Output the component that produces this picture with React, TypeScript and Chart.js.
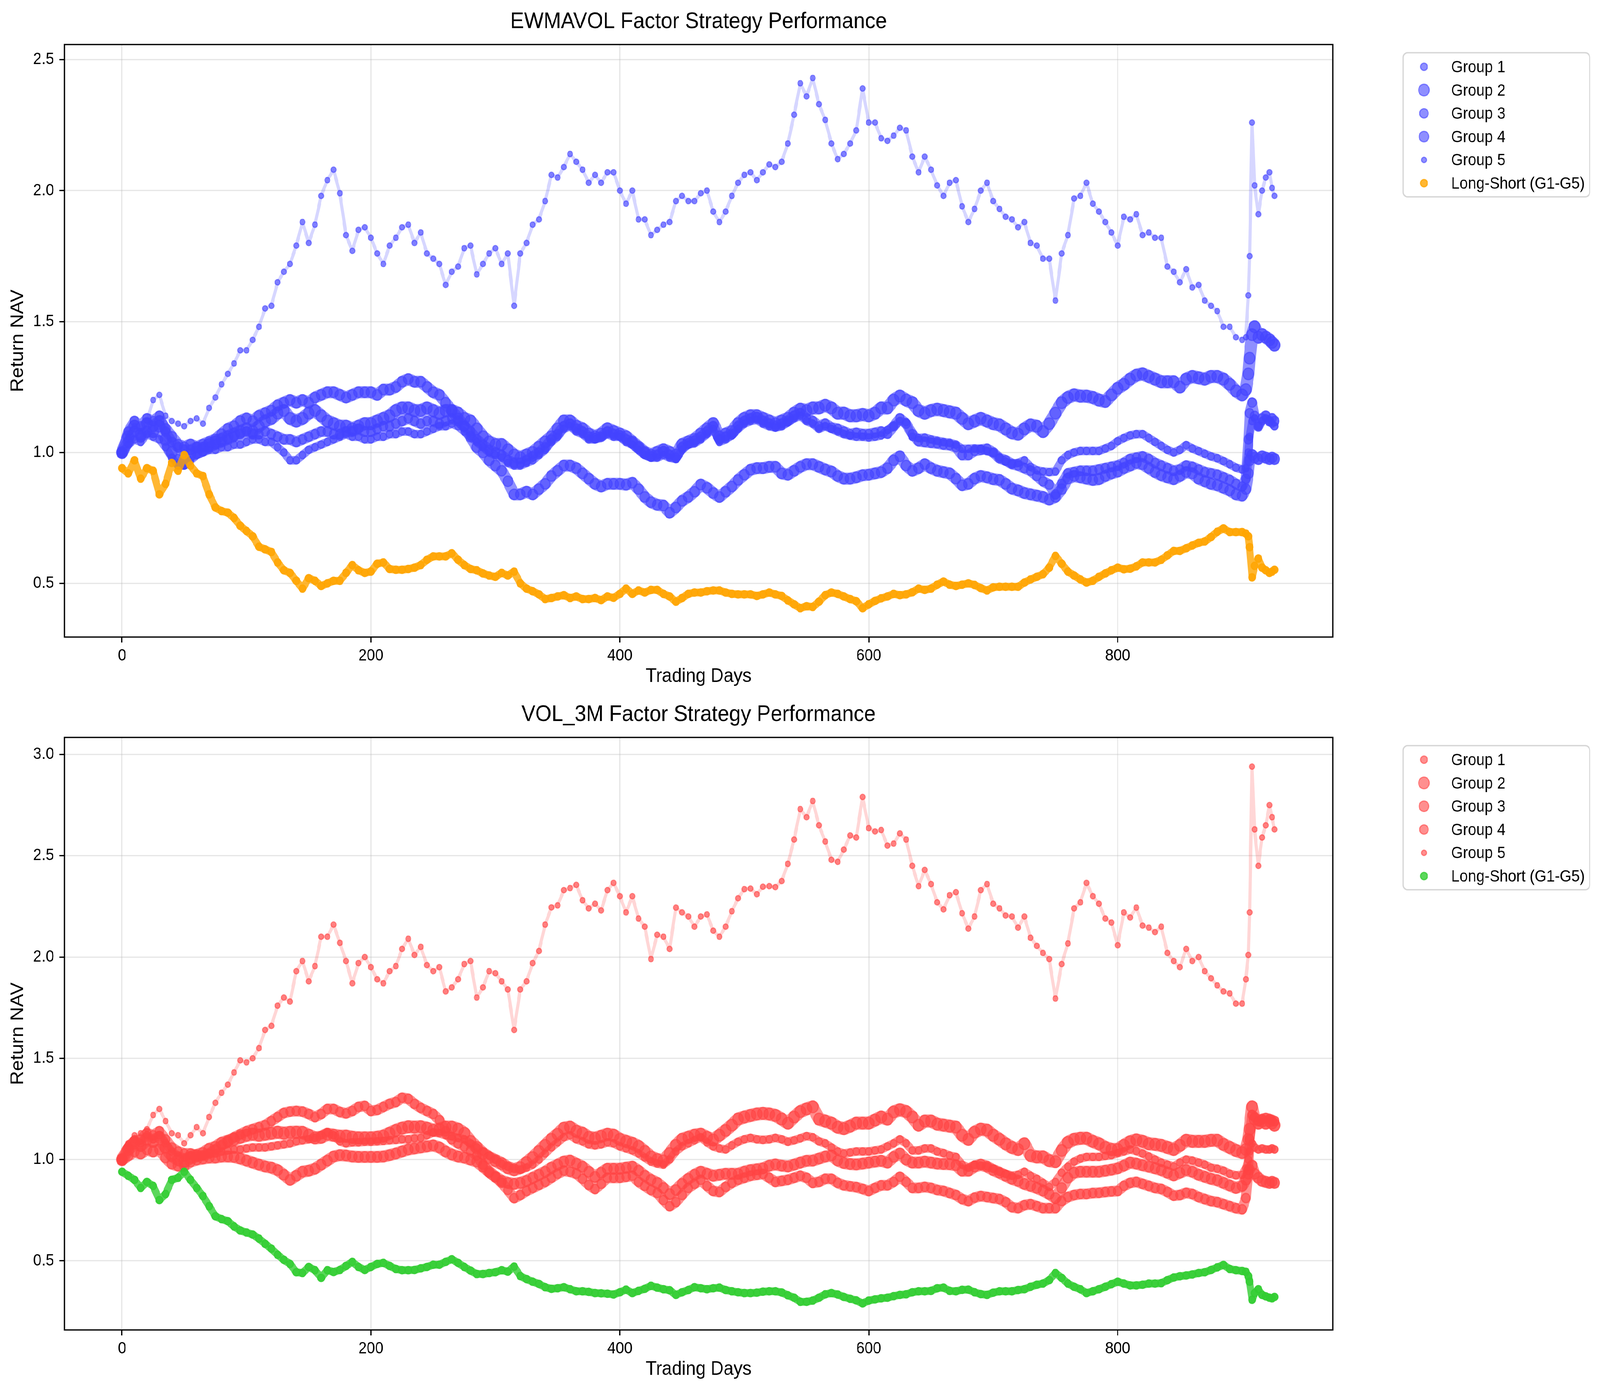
import React, { useEffect, useLayoutEffect, useRef, useState } from 'react';
import { Chart, registerables } from 'chart.js';

Chart.register(...registerables);

const FONT = '"Liberation Sans", Arial, Helvetica, sans-serif';
const FIG_W = 4472;
const FIG_H = 3569;

// trading days (5-day steps, denser around the jump near the end)
const days = [
  0, 5, 10, 15, 20, 25, 30, 35, 40, 45,
  50, 55, 60, 65, 70, 75, 80, 85, 90, 95,
  100, 105, 110, 115, 120, 125, 130, 135, 140, 145,
  150, 155, 160, 165, 170, 175, 180, 185, 190, 195,
  200, 205, 210, 215, 220, 225, 230, 235, 240, 245,
  250, 255, 260, 265, 270, 275, 280, 285, 290, 295,
  300, 305, 310, 315, 320, 325, 330, 335, 340, 345,
  350, 355, 360, 365, 370, 375, 380, 385, 390, 395,
  400, 405, 410, 415, 420, 425, 430, 435, 440, 445,
  450, 455, 460, 465, 470, 475, 480, 485, 490, 495,
  500, 505, 510, 515, 520, 525, 530, 535, 540, 545,
  550, 555, 560, 565, 570, 575, 580, 585, 590, 595,
  600, 605, 610, 615, 620, 625, 630, 635, 640, 645,
  650, 655, 660, 665, 670, 675, 680, 685, 690, 695,
  700, 705, 710, 715, 720, 725, 730, 735, 740, 745,
  750, 755, 760, 765, 770, 775, 780, 785, 790, 795,
  800, 805, 810, 815, 820, 825, 830, 835, 840, 845,
  850, 855, 860, 865, 870, 875, 880, 885, 890, 895,
  900, 903, 905, 906, 908, 910, 913, 916, 919, 922, 924, 926,
];

const xTicks = [0, 200, 400, 600, 800];
const ewmaYTicks = [0.5, 1.0, 1.5, 2.0, 2.5];
const volYTicks = [0.5, 1.0, 1.5, 2.0, 2.5, 3.0];

// ---- EWMAVOL ----
const ewmaG1 = [
  1.00, 1.03, 1.05, 1.04, 1.07, 1.06, 1.05, 1.02, 0.98, 0.95,
  0.95, 0.97, 0.99, 1.00, 1.01, 1.01, 1.02, 1.02, 1.03, 1.03,
  1.04, 1.05, 1.05, 1.04, 1.04, 1.02, 1.00, 0.97, 0.97, 0.99,
  1.01, 1.02, 1.03, 1.04, 1.05, 1.06, 1.07, 1.06, 1.06, 1.05,
  1.05, 1.06, 1.06, 1.07, 1.07, 1.08, 1.08, 1.07, 1.07, 1.08,
  1.09, 1.10, 1.10, 1.11, 1.10, 1.08, 1.06, 1.04, 1.02, 1.00,
  0.99, 0.98, 0.96, 0.95, 0.95, 0.96, 0.97, 0.99, 1.01, 1.04,
  1.06, 1.09, 1.10, 1.08, 1.07, 1.05, 1.05, 1.06, 1.07, 1.06,
  1.06, 1.04, 1.03, 1.01, 0.99, 0.98, 0.98, 0.99, 0.98, 0.975,
  1.01, 1.03, 1.035, 1.05, 1.07, 1.09, 1.04, 1.05, 1.065, 1.09,
  1.11, 1.12, 1.125, 1.11, 1.10, 1.095, 1.10, 1.115, 1.13, 1.14,
  1.12, 1.11, 1.09, 1.10, 1.09, 1.08, 1.07, 1.064, 1.06, 1.06,
  1.057, 1.06, 1.065, 1.086, 1.10, 1.12, 1.115, 1.06, 1.055, 1.057,
  1.05, 1.045, 1.04, 1.037, 1.03, 1.014, 1.014, 1.015, 1.014, 1.005,
  1.00, 0.98, 0.965, 0.956, 0.96, 0.97, 0.945, 0.932, 0.927, 0.925,
  0.927, 0.97, 0.99, 1.00, 1.006, 1.006, 1.006, 1.006, 1.015, 1.025,
  1.043, 1.055, 1.065, 1.07, 1.07, 1.055, 1.04, 1.025, 1.01, 1.00,
  1.01, 1.028, 1.015, 1.005, 0.995, 0.985, 0.978, 0.967, 0.955, 0.942,
  0.935, 0.94, 1.00, 1.06, 1.12, 1.13, 1.10, 1.12, 1.13, 1.12, 1.11, 1.10,
];
const ewmaG2 = [
  1.00, 1.06, 1.10, 1.07, 1.11, 1.08, 1.10, 1.05, 1.00, 0.97,
  0.96, 0.99, 1.00, 1.01, 1.03, 1.04, 1.05, 1.06, 1.07, 1.08,
  1.09, 1.08, 1.10, 1.12, 1.13, 1.15, 1.16, 1.13, 1.12, 1.13,
  1.15, 1.16, 1.14, 1.12, 1.11, 1.10, 1.10, 1.09, 1.10, 1.11,
  1.11, 1.12, 1.13, 1.14, 1.16, 1.17, 1.17, 1.16, 1.16, 1.17,
  1.16, 1.15, 1.16, 1.16, 1.15, 1.13, 1.12, 1.09, 1.06, 1.04,
  1.03, 1.03, 1.01, 0.99, 0.98, 0.99, 1.00, 1.02, 1.04, 1.06,
  1.09, 1.12, 1.12, 1.10, 1.09, 1.07, 1.06, 1.07, 1.09, 1.08,
  1.07, 1.06, 1.04, 1.02, 1.00, 0.99, 1.00, 1.01, 1.00, 0.99,
  1.03, 1.04, 1.05, 1.07, 1.09, 1.11, 1.06, 1.07, 1.08, 1.11,
  1.13, 1.14, 1.14, 1.13, 1.12, 1.11, 1.12, 1.13, 1.15, 1.165,
  1.16, 1.17, 1.17, 1.18, 1.17, 1.15, 1.15, 1.14, 1.14, 1.145,
  1.14, 1.15, 1.17, 1.17, 1.20, 1.215, 1.20, 1.19, 1.16, 1.15,
  1.16, 1.165, 1.16, 1.155, 1.15, 1.13, 1.11, 1.12, 1.13, 1.12,
  1.11, 1.105, 1.09, 1.075, 1.07, 1.09, 1.105, 1.10, 1.08, 1.11,
  1.15, 1.19, 1.21, 1.22, 1.215, 1.215, 1.21, 1.20, 1.195, 1.22,
  1.245, 1.26, 1.28, 1.295, 1.30, 1.29, 1.28, 1.27, 1.27, 1.27,
  1.25, 1.28, 1.29, 1.285, 1.28, 1.29, 1.29, 1.28, 1.26, 1.235,
  1.22, 1.24, 1.30, 1.36, 1.45, 1.48, 1.44, 1.45, 1.44, 1.43, 1.42, 1.41,
];
const ewmaG3 = [
  1.00, 1.08, 1.12, 1.10, 1.13, 1.12, 1.14, 1.08, 1.04, 1.02,
  1.01, 1.01, 1.02, 1.02, 1.02, 1.03, 1.04, 1.05, 1.06, 1.07,
  1.08, 1.07, 1.07, 1.08, 1.07, 1.06, 1.05, 1.05, 1.04, 1.05,
  1.06, 1.07, 1.08, 1.08, 1.07, 1.07, 1.08, 1.08, 1.09, 1.08,
  1.08, 1.09, 1.10, 1.10, 1.11, 1.12, 1.13, 1.12, 1.11, 1.12,
  1.12, 1.11, 1.12, 1.13, 1.12, 1.10, 1.08, 1.05, 1.03, 1.01,
  1.00, 0.99, 0.97, 0.96, 0.96, 0.97, 0.985, 1.00, 1.02, 1.05,
  1.07, 1.10, 1.11, 1.09, 1.08, 1.06, 1.055, 1.06, 1.08, 1.07,
  1.065, 1.05, 1.04, 1.02, 1.00, 0.985, 0.99, 1.005, 0.99, 0.98,
  1.02, 1.035, 1.045, 1.06, 1.08, 1.10, 1.05, 1.06, 1.07, 1.10,
  1.12, 1.13, 1.135, 1.12, 1.11, 1.10, 1.11, 1.12, 1.14, 1.15,
  1.13, 1.12, 1.10, 1.11, 1.095, 1.09, 1.08, 1.07, 1.075, 1.07,
  1.07, 1.075, 1.08, 1.072, 1.10, 1.13, 1.11, 1.07, 1.043, 1.04,
  1.037, 1.035, 1.03, 1.028, 1.02, 0.99, 0.99, 1.006, 1.01, 1.014,
  1.00, 0.978, 0.97, 0.956, 0.95, 0.94, 0.93, 0.91, 0.89, 0.877,
  0.84, 0.88, 0.92, 0.925, 0.93, 0.93, 0.93, 0.935, 0.94, 0.945,
  0.95, 0.96, 0.975, 0.98, 0.985, 0.975, 0.96, 0.95, 0.94, 0.93,
  0.935, 0.95, 0.945, 0.935, 0.925, 0.92, 0.915, 0.905, 0.895, 0.88,
  0.87, 0.90, 1.05, 1.15, 1.19, 1.14, 1.10, 1.13, 1.14, 1.12, 1.13, 1.12,
];
const ewmaG4 = [
  1.00, 1.04, 1.08, 1.06, 1.08, 1.10, 1.12, 1.09, 1.06, 1.03,
  1.02, 1.03, 1.02, 1.03, 1.04, 1.05, 1.07, 1.09, 1.10, 1.12,
  1.13, 1.12, 1.14, 1.15, 1.16, 1.18, 1.19, 1.20, 1.19, 1.20,
  1.19, 1.21, 1.22, 1.23, 1.23, 1.22, 1.21, 1.22, 1.23, 1.23,
  1.23, 1.22, 1.24, 1.24, 1.25, 1.27, 1.28, 1.27, 1.27, 1.25,
  1.23, 1.22, 1.19, 1.16, 1.13, 1.10, 1.06, 1.02, 1.00, 0.97,
  0.95, 0.93, 0.89, 0.84, 0.84, 0.85, 0.84, 0.86, 0.88, 0.91,
  0.93, 0.95, 0.95, 0.94, 0.92, 0.90, 0.88, 0.87, 0.88, 0.88,
  0.88, 0.877, 0.884, 0.86, 0.83, 0.81, 0.80, 0.797, 0.77, 0.79,
  0.815, 0.83, 0.85, 0.877, 0.865, 0.845, 0.83, 0.85, 0.87, 0.895,
  0.915, 0.934, 0.94, 0.94, 0.945, 0.945, 0.92, 0.915, 0.93, 0.945,
  0.955, 0.955, 0.945, 0.935, 0.927, 0.91, 0.90, 0.90, 0.905, 0.913,
  0.915, 0.92, 0.925, 0.94, 0.97, 0.985, 0.95, 0.93, 0.94, 0.955,
  0.94, 0.93, 0.925, 0.92, 0.90, 0.875, 0.88, 0.90, 0.91, 0.905,
  0.898, 0.895, 0.88, 0.862, 0.855, 0.845, 0.84, 0.835, 0.83, 0.82,
  0.83, 0.86, 0.90, 0.91, 0.905, 0.90, 0.895, 0.898, 0.91, 0.92,
  0.927, 0.94, 0.95, 0.96, 0.955, 0.94, 0.925, 0.913, 0.905, 0.898,
  0.91, 0.925, 0.92, 0.90, 0.89, 0.88, 0.875, 0.865, 0.855, 0.84,
  0.835, 0.86, 0.92, 0.97, 0.99, 0.98, 0.975, 0.985, 0.98, 0.975, 0.98, 0.975,
];
const ewmaG5 = [
  1.00, 1.06, 1.10, 1.08, 1.12, 1.20, 1.22, 1.14, 1.12, 1.11,
  1.10, 1.12, 1.13, 1.11, 1.17, 1.21, 1.26, 1.30, 1.34, 1.39,
  1.39, 1.43, 1.48, 1.55, 1.56, 1.65, 1.69, 1.72, 1.79, 1.88,
  1.80, 1.87, 1.98, 2.04, 2.08, 1.99, 1.83, 1.77, 1.85, 1.86,
  1.82, 1.76, 1.72, 1.79, 1.82, 1.86, 1.87, 1.80, 1.84, 1.76,
  1.74, 1.72, 1.64, 1.69, 1.71, 1.78, 1.79, 1.68, 1.72, 1.76,
  1.78, 1.72, 1.76, 1.56, 1.76, 1.80, 1.87, 1.89, 1.96, 2.06,
  2.05, 2.09, 2.14, 2.11, 2.08, 2.03, 2.06, 2.03, 2.07, 2.07,
  2.00, 1.95, 2.00, 1.89, 1.89, 1.83, 1.85, 1.87, 1.88, 1.96,
  1.98, 1.96, 1.96, 1.99, 2.00, 1.92, 1.88, 1.92, 1.98, 2.03,
  2.06, 2.07, 2.04, 2.07, 2.10, 2.09, 2.11, 2.18, 2.29, 2.41,
  2.36, 2.43, 2.33, 2.27, 2.18, 2.12, 2.14, 2.18, 2.23, 2.39,
  2.26, 2.26, 2.20, 2.19, 2.21, 2.24, 2.23, 2.13, 2.07, 2.13,
  2.08, 2.02, 1.98, 2.03, 2.04, 1.94, 1.88, 1.93, 2.00, 2.03,
  1.96, 1.93, 1.90, 1.89, 1.86, 1.88, 1.80, 1.79, 1.74, 1.74,
  1.58, 1.76, 1.83, 1.97, 1.98, 2.03, 1.95, 1.92, 1.88, 1.84,
  1.79, 1.90, 1.89, 1.91, 1.83, 1.84, 1.82, 1.82, 1.71, 1.69,
  1.65, 1.70, 1.63, 1.64, 1.58, 1.56, 1.54, 1.48, 1.48, 1.44,
  1.43, 1.44, 1.60, 1.75, 2.26, 2.02, 1.91, 2.00, 2.05, 2.07, 2.01, 1.98,
];
const ewmaLS = [
  0.94, 0.92, 0.97, 0.90, 0.94, 0.93, 0.84, 0.88, 0.96, 0.93,
  0.99, 0.95, 0.92, 0.91, 0.84, 0.79, 0.776, 0.77, 0.75, 0.72,
  0.70, 0.68, 0.64, 0.63, 0.62, 0.58, 0.55, 0.54, 0.51, 0.48,
  0.52, 0.51, 0.49, 0.50, 0.51, 0.51, 0.54, 0.57, 0.55, 0.54,
  0.545, 0.575, 0.58, 0.555, 0.552, 0.552, 0.555, 0.56, 0.57, 0.59,
  0.603, 0.603, 0.603, 0.615, 0.59, 0.57, 0.555, 0.55, 0.538, 0.53,
  0.525, 0.54, 0.53, 0.545, 0.50, 0.48, 0.47, 0.458, 0.44, 0.444,
  0.45, 0.455, 0.444, 0.45, 0.44, 0.44, 0.444, 0.436, 0.45, 0.445,
  0.46, 0.48, 0.46, 0.473, 0.465, 0.475, 0.475, 0.46, 0.45, 0.43,
  0.444, 0.46, 0.465, 0.465, 0.47, 0.473, 0.473, 0.465, 0.46, 0.458,
  0.458, 0.458, 0.452, 0.458, 0.465, 0.458, 0.452, 0.435, 0.42, 0.405,
  0.413, 0.41, 0.43, 0.455, 0.465, 0.46, 0.45, 0.44, 0.432, 0.405,
  0.42, 0.433, 0.443, 0.45, 0.46, 0.455, 0.458, 0.466, 0.48, 0.475,
  0.48, 0.495, 0.507, 0.495, 0.49, 0.495, 0.50, 0.494, 0.482, 0.473,
  0.485, 0.487, 0.487, 0.487, 0.487, 0.503, 0.515, 0.525, 0.535, 0.56,
  0.605, 0.575, 0.545, 0.53, 0.515, 0.503, 0.51, 0.525, 0.538, 0.55,
  0.56, 0.554, 0.556, 0.565, 0.58, 0.58, 0.58, 0.59, 0.607, 0.624,
  0.624, 0.634, 0.645, 0.655, 0.66, 0.677, 0.697, 0.71, 0.696, 0.696,
  0.696, 0.69, 0.68, 0.638, 0.523, 0.567, 0.595, 0.56, 0.55, 0.54, 0.545, 0.552,
];

// ---- VOL_3M ----
const volG1 = [
  1.00, 1.07, 1.10, 1.08, 1.12, 1.10, 1.12, 1.08, 1.04, 1.02,
  1.01, 1.02, 1.02, 1.02, 1.03, 1.03, 1.04, 1.045, 1.05, 1.05,
  1.055, 1.06, 1.06, 1.06, 1.065, 1.07, 1.075, 1.08, 1.09, 1.095,
  1.10, 1.107, 1.12, 1.134, 1.12, 1.09, 1.08, 1.085, 1.085, 1.088,
  1.088, 1.09, 1.092, 1.095, 1.097, 1.10, 1.10, 1.105, 1.107, 1.12,
  1.134, 1.13, 1.12, 1.115, 1.107, 1.10, 1.08, 1.06, 1.04, 1.02,
  1.00, 0.98, 0.965, 0.955, 0.95, 0.96, 0.975, 1.00, 1.03, 1.06,
  1.085, 1.11, 1.12, 1.10, 1.09, 1.075, 1.07, 1.075, 1.085, 1.08,
  1.065, 1.055, 1.045, 1.03, 1.01, 0.99, 0.98, 0.975, 1.00, 1.04,
  1.065, 1.08, 1.095, 1.11, 1.085, 1.065, 1.055, 1.05, 1.07, 1.088,
  1.10, 1.107, 1.10, 1.097, 1.10, 1.107, 1.10, 1.088, 1.095, 1.105,
  1.116, 1.11, 1.09, 1.08, 1.06, 1.04, 1.03, 1.035, 1.04, 1.04,
  1.04, 1.045, 1.05, 1.065, 1.08, 1.10, 1.08, 1.045, 1.045, 1.055,
  1.055, 1.04, 1.032, 1.02, 1.013, 0.975, 0.96, 0.975, 0.97, 0.966,
  0.955, 0.94, 0.93, 0.92, 0.925, 0.94, 0.92, 0.905, 0.885, 0.865,
  0.89, 0.935, 0.965, 0.99, 1.005, 1.013, 1.013, 1.013, 1.018, 1.022,
  1.032, 1.04, 1.05, 1.042, 1.03, 1.015, 1.00, 0.985, 0.975, 0.966,
  0.985, 1.00, 0.995, 0.985, 0.975, 0.96, 0.955, 0.945, 0.93, 0.922,
  0.925, 0.957, 1.00, 1.04, 1.08, 1.06, 1.05, 1.055, 1.05, 1.05, 1.055, 1.05,
];
const volG2 = [
  1.00, 1.05, 1.08, 1.07, 1.10, 1.09, 1.11, 1.06, 1.02, 1.00,
  0.99, 1.01, 1.02, 1.03, 1.05, 1.06, 1.08, 1.09, 1.10, 1.11,
  1.12, 1.125, 1.12, 1.125, 1.13, 1.135, 1.13, 1.134, 1.135, 1.134,
  1.12, 1.107, 1.11, 1.125, 1.12, 1.115, 1.116, 1.11, 1.107, 1.107,
  1.107, 1.11, 1.116, 1.13, 1.144, 1.155, 1.162, 1.16, 1.162, 1.155,
  1.145, 1.15, 1.16, 1.16, 1.15, 1.13, 1.09, 1.06, 1.03, 1.01,
  0.995, 0.98, 0.96, 0.95, 0.96, 0.985, 1.01, 1.04, 1.07, 1.10,
  1.125, 1.155, 1.16, 1.14, 1.13, 1.11, 1.105, 1.115, 1.125, 1.12,
  1.10, 1.09, 1.08, 1.065, 1.04, 1.013, 1.00, 0.994, 1.03, 1.07,
  1.10, 1.11, 1.12, 1.125, 1.11, 1.097, 1.12, 1.144, 1.17, 1.20,
  1.21, 1.218, 1.225, 1.228, 1.225, 1.218, 1.20, 1.18, 1.21, 1.237,
  1.25, 1.26, 1.20, 1.19, 1.18, 1.16, 1.153, 1.165, 1.18, 1.18,
  1.18, 1.195, 1.21, 1.20, 1.235, 1.246, 1.237, 1.21, 1.17, 1.19,
  1.19, 1.175, 1.17, 1.165, 1.16, 1.12, 1.10, 1.135, 1.15, 1.145,
  1.12, 1.10, 1.078, 1.06, 1.05, 1.078, 1.02, 1.013, 1.013, 0.995,
  0.99, 1.045, 1.085, 1.10, 1.105, 1.105, 1.09, 1.078, 1.06, 1.05,
  1.05, 1.07, 1.088, 1.097, 1.09, 1.078, 1.075, 1.07, 1.06, 1.05,
  1.07, 1.095, 1.09, 1.09, 1.09, 1.095, 1.095, 1.075, 1.06, 1.045,
  1.035, 1.05, 1.10, 1.15, 1.26, 1.20, 1.18, 1.19, 1.18, 1.19, 1.18, 1.17,
];
const volG3 = [
  1.00, 1.02, 1.04, 1.03, 1.05, 1.04, 1.05, 1.01, 0.98, 0.97,
  0.97, 0.99, 1.00, 1.005, 1.01, 1.01, 1.015, 1.015, 1.013, 1.005,
  0.995, 0.985, 0.975, 0.966, 0.96, 0.948, 0.925, 0.90, 0.92, 0.94,
  0.945, 0.955, 0.975, 0.995, 1.015, 1.022, 1.02, 1.015, 1.013, 1.013,
  1.013, 1.013, 1.015, 1.022, 1.03, 1.04, 1.05, 1.055, 1.06, 1.065,
  1.07, 1.06, 1.04, 1.025, 1.015, 1.01, 1.00, 0.99, 0.965, 0.94,
  0.915, 0.895, 0.885, 0.88, 0.885, 0.895, 0.91, 0.925, 0.94, 0.96,
  0.975, 0.99, 0.995, 0.98, 0.965, 0.94, 0.915, 0.935, 0.955, 0.955,
  0.955, 0.96, 0.965, 0.945, 0.92, 0.90, 0.885, 0.86, 0.83, 0.85,
  0.88, 0.905, 0.925, 0.94, 0.93, 0.92, 0.925, 0.93, 0.93, 0.93,
  0.94, 0.948, 0.952, 0.957, 0.97, 0.976, 0.97, 0.966, 0.975, 0.985,
  0.994, 0.995, 1.005, 1.015, 1.02, 0.995, 0.983, 0.978, 0.976, 0.98,
  0.985, 0.99, 0.994, 0.985, 1.013, 1.03, 1.00, 0.985, 0.985, 0.99,
  0.985, 0.98, 0.978, 0.977, 0.972, 0.945, 0.945, 0.965, 0.975, 0.965,
  0.948, 0.935, 0.92, 0.905, 0.895, 0.88, 0.87, 0.86, 0.847, 0.83,
  0.81, 0.86, 0.91, 0.935, 0.94, 0.94, 0.94, 0.94, 0.945, 0.95,
  0.957, 0.97, 0.985, 0.98, 0.972, 0.965, 0.957, 0.948, 0.935, 0.922,
  0.935, 0.948, 0.94, 0.925, 0.915, 0.905, 0.898, 0.885, 0.872, 0.86,
  0.87, 0.90, 0.93, 0.95, 0.97, 0.93, 0.91, 0.895, 0.89, 0.885, 0.89, 0.885,
];
const volG4 = [
  1.00, 1.06, 1.09, 1.10, 1.13, 1.12, 1.14, 1.10, 1.06, 1.04,
  1.03, 1.03, 1.02, 1.02, 1.03, 1.05, 1.07, 1.09, 1.11, 1.125,
  1.14, 1.15, 1.16, 1.17, 1.19, 1.21, 1.23, 1.237, 1.24, 1.237,
  1.225, 1.21, 1.225, 1.25, 1.25, 1.235, 1.228, 1.24, 1.26, 1.265,
  1.24, 1.245, 1.26, 1.275, 1.284, 1.305, 1.30, 1.275, 1.255, 1.24,
  1.225, 1.195, 1.14, 1.10, 1.08, 1.065, 1.045, 1.02, 0.975, 0.935,
  0.915, 0.885, 0.85, 0.81, 0.825, 0.845, 0.86, 0.875, 0.89, 0.91,
  0.93, 0.945, 0.94, 0.93, 0.905, 0.875, 0.855, 0.88, 0.91, 0.91,
  0.91, 0.915, 0.92, 0.89, 0.87, 0.85, 0.835, 0.80, 0.77, 0.79,
  0.825, 0.86, 0.88, 0.90, 0.87, 0.845, 0.84, 0.865, 0.885, 0.90,
  0.91, 0.92, 0.925, 0.929, 0.91, 0.89, 0.895, 0.90, 0.91, 0.92,
  0.91, 0.885, 0.89, 0.905, 0.905, 0.885, 0.873, 0.868, 0.864, 0.855,
  0.845, 0.86, 0.873, 0.873, 0.89, 0.915, 0.89, 0.86, 0.86, 0.865,
  0.86, 0.85, 0.845, 0.835, 0.825, 0.805, 0.795, 0.812, 0.82, 0.815,
  0.81, 0.805, 0.79, 0.765, 0.76, 0.775, 0.78, 0.77, 0.76, 0.76,
  0.76, 0.795, 0.815, 0.825, 0.83, 0.83, 0.835, 0.836, 0.84, 0.843,
  0.845, 0.87, 0.885, 0.89, 0.88, 0.87, 0.86, 0.855, 0.84, 0.822,
  0.825, 0.836, 0.83, 0.815, 0.805, 0.795, 0.79, 0.78, 0.77, 0.76,
  0.755, 0.81, 0.95, 1.10, 1.22, 1.21, 1.19, 1.20, 1.205, 1.20, 1.195, 1.19,
];
const volG5 = [
  1.00, 1.08, 1.12, 1.13, 1.15, 1.22, 1.25, 1.19, 1.13, 1.12,
  1.08, 1.12, 1.16, 1.13, 1.21, 1.28, 1.33, 1.37, 1.43, 1.49,
  1.48, 1.50, 1.55, 1.64, 1.66, 1.76, 1.80, 1.78, 1.93, 1.98,
  1.88, 1.955, 2.10, 2.10, 2.16, 2.07, 1.98, 1.87, 1.97, 2.00,
  1.95, 1.89, 1.87, 1.93, 1.955, 2.04, 2.09, 2.01, 2.05, 1.96,
  1.93, 1.95, 1.83, 1.85, 1.89, 1.965, 1.98, 1.80, 1.85, 1.93,
  1.92, 1.88, 1.84, 1.64, 1.84, 1.88, 1.97, 2.03, 2.16, 2.245,
  2.255, 2.33, 2.34, 2.356, 2.28, 2.24, 2.263, 2.23, 2.33, 2.366,
  2.30, 2.22, 2.30, 2.19, 2.15, 1.99, 2.11, 2.10, 2.04, 2.244,
  2.22, 2.20, 2.15, 2.20, 2.21, 2.13, 2.10, 2.15, 2.226, 2.29,
  2.335, 2.338, 2.31, 2.347, 2.35, 2.345, 2.375, 2.46, 2.58, 2.73,
  2.69, 2.77, 2.65, 2.57, 2.48, 2.47, 2.53, 2.60, 2.59, 2.79,
  2.636, 2.62, 2.627, 2.55, 2.56, 2.61, 2.58, 2.45, 2.35, 2.43,
  2.36, 2.27, 2.235, 2.305, 2.32, 2.216, 2.14, 2.20, 2.33, 2.36,
  2.263, 2.24, 2.205, 2.20, 2.145, 2.20, 2.095, 2.055, 2.02, 1.99,
  1.795, 1.965, 2.067, 2.24, 2.27, 2.366, 2.30, 2.263, 2.19, 2.17,
  2.058, 2.22, 2.195, 2.244, 2.155, 2.145, 2.123, 2.15, 2.02, 1.98,
  1.95, 2.04, 1.98, 2.00, 1.93, 1.895, 1.86, 1.83, 1.82, 1.77,
  1.77, 1.89, 2.01, 2.22, 2.94, 2.63, 2.45, 2.59, 2.65, 2.75, 2.69, 2.63,
];
const volLS = [
  0.94, 0.92, 0.90, 0.86, 0.89, 0.87, 0.80, 0.83, 0.90, 0.91,
  0.94, 0.90, 0.86, 0.82, 0.77, 0.72, 0.706, 0.696, 0.67, 0.65,
  0.64, 0.63, 0.61, 0.584, 0.56, 0.53, 0.505, 0.485, 0.444, 0.44,
  0.47, 0.454, 0.416, 0.454, 0.445, 0.455, 0.475, 0.495, 0.47, 0.455,
  0.47, 0.485, 0.49, 0.475, 0.46, 0.454, 0.454, 0.455, 0.463, 0.47,
  0.481, 0.481, 0.495, 0.508, 0.49, 0.47, 0.452, 0.435, 0.435, 0.44,
  0.444, 0.454, 0.447, 0.472, 0.425, 0.41, 0.397, 0.386, 0.37, 0.362,
  0.365, 0.37, 0.36, 0.35, 0.35, 0.347, 0.341, 0.34, 0.338, 0.334,
  0.345, 0.358, 0.341, 0.352, 0.362, 0.377, 0.368, 0.36, 0.355, 0.332,
  0.345, 0.356, 0.37, 0.365, 0.36, 0.365, 0.368, 0.356, 0.35, 0.345,
  0.341, 0.341, 0.343, 0.348, 0.35, 0.35, 0.344, 0.33, 0.318, 0.298,
  0.298, 0.304, 0.318, 0.335, 0.341, 0.334, 0.322, 0.313, 0.305, 0.29,
  0.304, 0.31, 0.315, 0.318, 0.326, 0.332, 0.335, 0.345, 0.35, 0.35,
  0.352, 0.365, 0.368, 0.352, 0.35, 0.357, 0.358, 0.345, 0.336, 0.332,
  0.343, 0.35, 0.35, 0.35, 0.356, 0.36, 0.372, 0.382, 0.388, 0.405,
  0.44, 0.416, 0.388, 0.372, 0.36, 0.341, 0.35, 0.36, 0.372, 0.385,
  0.397, 0.388, 0.379, 0.379, 0.382, 0.388, 0.388, 0.39, 0.405, 0.418,
  0.424, 0.428, 0.433, 0.44, 0.444, 0.455, 0.468, 0.48, 0.46, 0.454,
  0.45, 0.446, 0.425, 0.397, 0.308, 0.341, 0.36, 0.332, 0.325, 0.318, 0.315, 0.322,
];

const groupLabels = ['Group 1', 'Group 2', 'Group 3', 'Group 4', 'Group 5', 'Long-Short (G1-G5)'];

interface SeriesDef {
  values: number[];
  radius: number;
  line: number;
  color: string;
  lineColor: string;
}

interface PanelProps {
  top: number;
  height: number;
  title: string;
  series: SeriesDef[];
  yMin: number;
  yMax: number;
  yTicks: number[];
  areaTop: number;
  xAxisHeight: number;
}

const BLUE = 'rgba(68, 68, 255, 0.6)';
const RED = 'rgba(255, 68, 68, 0.6)';
const ORANGE = 'rgba(255, 165, 0, 0.8)';
const GREEN = 'rgba(50, 205, 50, 0.8)';
const BLUE_TRAIL = 'rgba(68, 68, 255, 0.22)';
const RED_TRAIL = 'rgba(255, 68, 68, 0.22)';

const Panel: React.FC<PanelProps> = ({ top, height, title, series, yMin, yMax, yTicks, areaTop, xAxisHeight }) => {
  const canvasRef = useRef<HTMLCanvasElement>(null);
  const chartRef = useRef<Chart | null>(null);

  useEffect(() => {
    if (!canvasRef.current) return;
    if (chartRef.current) chartRef.current.destroy();

    const decor = {
      id: 'decor',
      afterDraw(chart: Chart) {
        const { ctx, chartArea: a } = chart;
        ctx.save();
        ctx.strokeStyle = '#000';
        ctx.lineWidth = 3.3;
        ctx.strokeRect(a.left, a.top, a.right - a.left, a.bottom - a.top);

        ctx.fillStyle = '#000';
        ctx.textAlign = 'center';
        ctx.textBaseline = 'alphabetic';
        ctx.font = `58px ${FONT}`;
        ctx.fillText(title, (a.left + a.right) / 2, a.top - 42);
        ctx.font = `50px ${FONT}`;
        ctx.fillText('Trading Days', (a.left + a.right) / 2, a.bottom + 115);
        ctx.save();
        ctx.translate(64, (a.top + a.bottom) / 2);
        ctx.rotate(-Math.PI / 2);
        ctx.fillText('Return NAV', 0, 0);
        ctx.restore();

        // legend in the free space right of the axes
        const boxLeft = 3922;
        const boxTop = a.top + 21;
        const boxW = 521;
        const boxH = 369;
        ctx.beginPath();
        if ((ctx as any).roundRect) (ctx as any).roundRect(boxLeft, boxTop, boxW, boxH, 12);
        else ctx.rect(boxLeft, boxTop, boxW, boxH);
        ctx.fillStyle = 'rgba(255,255,255,0.8)';
        ctx.fill();
        ctx.strokeStyle = '#d6d6d6';
        ctx.lineWidth = 3.3;
        ctx.stroke();

        ctx.font = `42px ${FONT}`;
        ctx.textAlign = 'left';
        series.forEach((s, i) => {
          const cy = boxTop + 36 + i * 59.6;
          ctx.beginPath();
          ctx.arc(3980, cy, s.radius, 0, Math.PI * 2);
          ctx.fillStyle = s.color;
          ctx.fill();
          ctx.lineWidth = 3;
          ctx.strokeStyle = s.color;
          ctx.stroke();
          ctx.fillStyle = '#000';
          ctx.fillText(groupLabels[i], 4056, cy + 14);
        });
        ctx.restore();
      },
    };

    const gridOpts = {
      color: 'rgba(176,176,176,0.3)',
      lineWidth: 3.3,
      tickColor: '#000',
      tickLength: 14,
      tickWidth: 3.3,
    };

    chartRef.current = new Chart(canvasRef.current, {
      type: 'scatter',
      data: {
        datasets: series.map((s, i) => ({
          label: groupLabels[i],
          data: days.map((d, j) => ({ x: d, y: s.values[j] })),
          showLine: s.line > 0,
          borderWidth: s.line,
          borderColor: s.lineColor,
          borderJoinStyle: 'round' as const,
          borderCapStyle: 'round' as const,
          backgroundColor: s.color,
          pointRadius: s.radius,
          pointBorderWidth: 3,
          pointBackgroundColor: s.color,
          pointBorderColor: s.color,
          pointStyle: 'circle' as const,
          order: series.length - i,
        })),
      },
      options: {
        animation: false,
        responsive: false,
        devicePixelRatio: 1,
        events: [],
        layout: { padding: { left: 0, right: 747, top: areaTop, bottom: 0 } },
        plugins: {
          legend: { display: false },
          title: { display: false },
          tooltip: { enabled: false },
        },
        scales: {
          x: {
            type: 'linear',
            min: -46.3,
            max: 972.8,
            z: 1,
            afterBuildTicks: (scale: any) => {
              scale.ticks = xTicks.map((v) => ({ value: v }));
            },
            afterFit: (scale: any) => {
              scale.height = xAxisHeight;
            },
            grid: gridOpts,
            border: { display: false },
            ticks: {
              color: '#000',
              font: { family: FONT, size: 42 },
              padding: 9,
              maxRotation: 0,
              callback: (v: any) => String(v),
            },
          },
          y: {
            type: 'linear',
            min: yMin,
            max: yMax,
            z: 1,
            afterBuildTicks: (scale: any) => {
              scale.ticks = yTicks.map((v) => ({ value: v }));
            },
            afterFit: (scale: any) => {
              scale.width = 180;
            },
            grid: gridOpts,
            border: { display: false },
            ticks: {
              color: '#000',
              font: { family: FONT, size: 42 },
              padding: 15,
              callback: (v: any) => Number(v).toFixed(1),
            },
          },
        },
      },
      plugins: [decor],
    });

    return () => {
      if (chartRef.current) {
        chartRef.current.destroy();
        chartRef.current = null;
      }
    };
  }, [title, series, yMin, yMax, yTicks, areaTop, xAxisHeight]);

  return (
    <div style={{ position: 'absolute', left: 0, top, width: FIG_W, height }}>
      <canvas ref={canvasRef} width={FIG_W} height={height} style={{ width: FIG_W, height, display: 'block' }} />
    </div>
  );
};

const ewmaSeries: SeriesDef[] = [
  { values: ewmaG1, radius: 9.5, line: 22, color: BLUE, lineColor: BLUE },
  { values: ewmaG2, radius: 15, line: 34, color: BLUE, lineColor: BLUE },
  { values: ewmaG3, radius: 12, line: 28, color: BLUE, lineColor: BLUE },
  { values: ewmaG4, radius: 13.5, line: 31, color: BLUE, lineColor: BLUE },
  { values: ewmaG5, radius: 7, line: 9, color: BLUE, lineColor: BLUE_TRAIL },
  { values: ewmaLS, radius: 9.5, line: 20, color: ORANGE, lineColor: ORANGE },
];

const volSeries: SeriesDef[] = [
  { values: volG1, radius: 9.5, line: 22, color: RED, lineColor: RED },
  { values: volG2, radius: 15, line: 34, color: RED, lineColor: RED },
  { values: volG3, radius: 13.5, line: 31, color: RED, lineColor: RED },
  { values: volG4, radius: 12, line: 28, color: RED, lineColor: RED },
  { values: volG5, radius: 7, line: 9, color: RED, lineColor: RED_TRAIL },
  { values: volLS, radius: 9.5, line: 20, color: GREEN, lineColor: GREEN },
];

export default function App() {
  const [size, setSize] = useState({ w: FIG_W, h: FIG_H });

  useLayoutEffect(() => {
    const fit = () => {
      const d = document.documentElement;
      setSize({ w: d.clientWidth || window.innerWidth, h: d.clientHeight || window.innerHeight });
    };
    document.body.style.margin = '0';
    document.body.style.overflow = 'hidden';
    fit();
    window.addEventListener('resize', fit);
    return () => window.removeEventListener('resize', fit);
  }, []);

  // the browser window may be narrower than the figure: stretch the figure onto the whole window
  const sx = size.w / FIG_W;
  const sy = size.h / FIG_H;

  return (
    <div style={{ position: 'relative', width: size.w, height: size.h, overflow: 'hidden', background: '#fff' }}>
      <div
        style={{
          position: 'absolute',
          left: 0,
          top: 0,
          width: FIG_W,
          height: FIG_H,
          background: '#fff',
          transform: `scale(${sx}, ${sy})`,
          transformOrigin: '0 0',
        }}
      >
        <Panel
          top={0}
          height={1784}
          title="EWMAVOL Factor Strategy Performance"
          series={ewmaSeries}
          yMin={0.295}
          yMax={2.558}
          yTicks={ewmaYTicks}
          areaTop={114}
          xAxisHeight={153}
        />
        <Panel
          top={1784}
          height={1785}
          title="VOL_3M Factor Strategy Performance"
          series={volSeries}
          yMin={0.159}
          yMax={3.084}
          yTicks={volYTicks}
          areaTop={104}
          xAxisHeight={164}
        />
      </div>
    </div>
  );
}
